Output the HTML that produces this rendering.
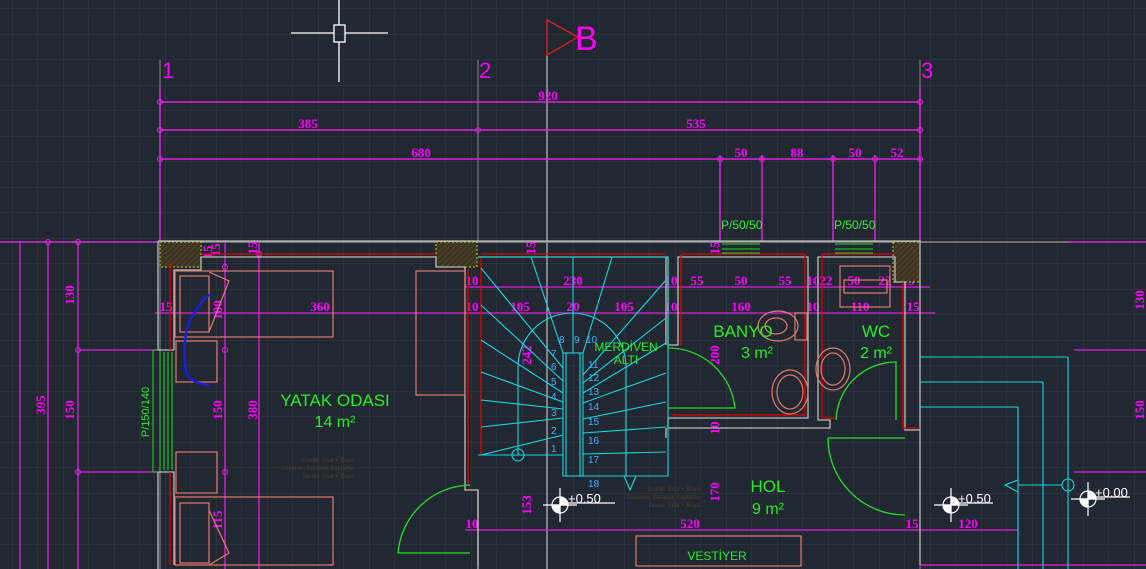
<!DOCTYPE html>
<html><head><meta charset="utf-8"><style>
html,body{margin:0;padding:0;background:#222832;width:1146px;height:569px;overflow:hidden}
svg{display:block}
text{font-family:"Liberation Serif",serif}
.s{font-family:"Liberation Sans",sans-serif}
</style></head><body>
<svg width="1146" height="569" viewBox="0 0 1146 569" xmlns="http://www.w3.org/2000/svg">
<defs>
<pattern id="g" width="51" height="51" patternUnits="userSpaceOnUse" x="12" y="-17">
<path d="M0 0H51M0 0V51" stroke="#333b47" stroke-width="1"/>
<path d="M0 25.5H51M25.5 0V51" stroke="#29303a" stroke-width="1"/>
</pattern>
<pattern id="h" width="4" height="4" patternUnits="userSpaceOnUse" patternTransform="rotate(45)">
<rect width="4" height="4" fill="#3a3424"/><path d="M0 0V4" stroke="#6b5a2a" stroke-width="1"/>
</pattern>
</defs>
<rect width="1146" height="569" fill="#222832"/>
<rect width="1146" height="569" fill="url(#g)"/>

<g stroke="#fff" stroke-width="1.3" fill="none">
<path d="M291 33H334M345 33H388M339 0V25M339 42V82"/><rect x="334" y="25" width="11" height="17"/>
</g>
<path d="M547 55V569" stroke="#bbb" stroke-width="1.2"/>
<path d="M547 20L578 37L547 55Z" fill="none" stroke="#e02020" stroke-width="1.3"/>
<text x="575" y="50" class="s" font-size="34" fill="#ff00ff">B</text>

<g stroke="#888" stroke-width="1"><path d="M160 60V569M478 60V242M920 60V569"/></g>
<g class="s" font-size="22" fill="#ff00ff"><text x="162" y="78" class="s">1</text><text x="479" y="78" class="s">2</text><text x="921" y="78" class="s">3</text></g>

<g stroke="#e020e0" stroke-width="1.5" fill="none">
<path d="M160 102H920M160 130H920M160 159H920"/>
<path d="M160 87V242M920 87V242M720 155V242M762 155V242M833 155V242M875 155V242"/>
</g>
<g fill="none" stroke="#e020e0" stroke-width="1">
<circle cx="160" cy="102" r="2.5"/><circle cx="920" cy="102" r="2.5"/><circle cx="160" cy="130" r="2.5"/><circle cx="478" cy="130" r="2.5"/><circle cx="920" cy="130" r="2.5"/>
<circle cx="160" cy="159" r="2.5"/><circle cx="720" cy="159" r="2.5"/><circle cx="762" cy="159" r="2.5"/><circle cx="833" cy="159" r="2.5"/><circle cx="875" cy="159" r="2.5"/><circle cx="920" cy="159" r="2.5"/>
</g>
<g font-size="13" font-weight="bold" fill="#ff00ff" text-anchor="middle">
<text x="548" y="100">920</text><text x="308" y="128">385</text><text x="696" y="128">535</text>
<text x="421" y="157">680</text><text x="741" y="157">50</text><text x="797" y="157">88</text><text x="855" y="157">50</text><text x="897" y="157">52</text>
</g>
<g class="s" font-size="12" fill="#33ee33"><text x="721" y="229" class="s">P/50/50</text><text x="834" y="229" class="s">P/50/50</text></g>

<path d="M0 242H1146" stroke="#999" stroke-width="1.2"/>
<path d="M0 242H160M1068 242H1146M1074 350H1146M1074 472H1146M920 565H1146" stroke="#e020e0" stroke-width="1.3"/>

<g stroke="#e020e0" stroke-width="1.3" fill="none">
<path d="M20 242V569M48 242V569M78 242V569M78 350H160M78 472H160M225 242V569M259 242V569"/>
</g>
<g fill="none" stroke="#e020e0"><circle cx="48" cy="242" r="2.5"/><circle cx="78" cy="242" r="2.5"/><circle cx="78" cy="350" r="2.5"/><circle cx="78" cy="472" r="2.5"/><circle cx="225" cy="350" r="2.5"/><circle cx="225" cy="472" r="2.5"/><circle cx="225" cy="267" r="2.5"/><circle cx="259" cy="254" r="2.5"/></g>
<g font-size="13" font-weight="bold" fill="#ff00ff" text-anchor="middle">
<text transform="translate(45,405) rotate(-90)">395</text>
<text transform="translate(74,295) rotate(-90)">130</text>
<text transform="translate(74,410) rotate(-90)">150</text>
<text transform="translate(222,310) rotate(-90)">100</text>
<text transform="translate(222,410) rotate(-90)">150</text>
<text transform="translate(222,520) rotate(-90)">115</text>
<text transform="translate(257,410) rotate(-90)">380</text>
<text transform="translate(212,252) rotate(-90)">15</text>
<text transform="translate(220,250) rotate(-90)">15</text>
<text transform="translate(257,248) rotate(-90)">15</text>
<text transform="translate(535,248) rotate(-90)">15</text>
<text transform="translate(719,248) rotate(-90)">15</text>
<text transform="translate(531,355) rotate(-90)">242</text>
<text transform="translate(531,505) rotate(-90)">153</text>
<text transform="translate(719,355) rotate(-90)">200</text>
<text transform="translate(719,428) rotate(-90)">10</text>
<text transform="translate(719,492) rotate(-90)">170</text>
<text transform="translate(1144,300) rotate(-90)">130</text>
<text transform="translate(1144,410) rotate(-90)">150</text>
</g>

<g stroke="#e020e0" stroke-width="1.2"><path d="M155 313H935M465 287H930M465 530H1018"/></g>
<g font-size="13" font-weight="bold" fill="#ff00ff" text-anchor="middle">
<text x="320" y="311">360</text><text x="166" y="311">15</text>
<text x="472" y="285">10</text><text x="573" y="285">230</text><text x="671" y="285">10</text><text x="697" y="285">55</text><text x="741" y="285">50</text><text x="785" y="285">55</text><text x="813" y="285">10</text><text x="826" y="285">22</text><text x="854" y="285">50</text><text x="885" y="285">22</text><text x="908" y="285">15</text>
<text x="472" y="311">10</text><text x="520" y="311">105</text><text x="573" y="311">20</text><text x="624" y="311">105</text><text x="671" y="311">10</text><text x="741" y="311">160</text><text x="813" y="311">10</text><text x="860" y="311">110</text><text x="913" y="311">15</text>
<text x="472" y="528">10</text><text x="690" y="528">520</text><text x="912" y="528">15</text><text x="968" y="528">120</text>
</g>

<g fill="url(#h)" stroke="#cccc22" stroke-width="1" stroke-dasharray="2 2">
<rect x="160" y="242" width="41" height="25"/><rect x="436" y="242" width="41" height="25"/><rect x="893" y="242" width="27" height="40"/>
</g>
<g fill="none" stroke="#bdbdbd" stroke-width="1.3">
<path d="M158 241H920V565"/>
<path d="M158 241V350H174M158 472H174V565M158 472V569"/>
<path d="M174 350V270H201V257H436V267H465V490H478V565"/>
<path d="M478 257H668V345H678V257H808V418H668V428H830V420H818V257H895V282H905V430H920"/>
<path d="M666 257V345M666 428V438M478 490V569"/>
</g>
<g fill="none" stroke="#e00000" stroke-width="1.3">
<path d="M170 262V350M170 472V565M201 254H436M468 270V485M481 254H665M481 257V455"/>
<path d="M681 254H805M681 254V345M805 254V415H672M822 254H893M822 254V418H835M903 282V428H920"/>
</g>
<g stroke="#22dd22" stroke-width="1" fill="none"><path d="M153 350V472M160 352V470M164 352V470M168 352V470M172 352V470M153 350H158M153 472H158"/></g>
<text transform="translate(149,412) rotate(-90)" class="s" font-size="11" fill="#22ee22" text-anchor="middle">P/150/140</text>
<g stroke="#22dd22" stroke-width="1"><path d="M722 244H760M722 249H760M722 253H760M835 244H873M835 249H873M835 253H873"/></g>

<g fill="none" stroke="#e07a6a" stroke-width="1.2">
<rect x="175" y="271" width="158" height="66"/><rect x="180" y="276" width="29" height="56"/><path d="M209 272L229 281L209 332"/>
<rect x="176" y="341" width="41" height="41"/><rect x="176" y="452" width="41" height="41"/>
<rect x="175" y="497" width="158" height="68"/><rect x="180" y="503" width="29" height="60"/><path d="M209 510L229 553L209 565"/>
<rect x="416" y="271" width="49" height="124"/>
<rect x="636" y="536" width="165" height="30"/>
<ellipse cx="778" cy="326" rx="20" ry="15"/><ellipse cx="776" cy="326" rx="11" ry="8"/><rect x="795" y="313" width="12" height="27"/>
<ellipse cx="790" cy="392" rx="18" ry="22"/><ellipse cx="790" cy="392" rx="13" ry="17"/>
<ellipse cx="833" cy="369" rx="17" ry="21"/><ellipse cx="833" cy="369" rx="12" ry="16"/>
<rect x="840" y="266" width="50" height="41"/><rect x="844" y="280" width="43" height="13"/>
</g>
<path d="M211 294C200 300 196 312 190 320C183 335 184 360 186 372C190 382 200 384 209 385" fill="none" stroke="#1520e0" stroke-width="2.4"/>

<g fill="none" stroke="#10d8e0" stroke-width="1.1">
<path d="M478 455H563M583 476H668V257M478 257H668"/>
<rect x="563" y="353" width="20" height="123"/>
<path d="M518 455V367A54 54 0 0 1 626 367V476"/>
<path d="M563 368L481 268M563 381L481 305M563 393L481 340M563 402L481 372M563 409L481 400M563 418L481 427M563 435L481 455"/>
<path d="M563 353L531 257M573 353V257M583 353L612 257M583 375L666 280M583 383L666 318M583 393L666 343M583 403L666 373M583 419L666 402M583 433L666 427M583 454L666 452"/>
<path d="M566 476V353M580 353V476"/>
<path d="M624 476L630 490L636 476"/>
<circle cx="518" cy="455" r="6"/>
<path d="M1018 407V569M1043 382V569M1068 357V569M920 357H1068M920 382H1043M920 407H1018M1018 485H1062M1018 480L1005 485L1018 492"/>
<circle cx="1068" cy="485" r="6"/>
</g>
<g class="s" font-size="10" fill="#3ab0ff">
<text x="551" y="452" class="s">1</text><text x="551" y="434" class="s">2</text><text x="551" y="416" class="s">3</text><text x="551" y="400" class="s">4</text><text x="551" y="385" class="s">5</text><text x="551" y="370" class="s">6</text><text x="551" y="357" class="s">7</text>
<text x="559" y="343" class="s">8</text><text x="574" y="343" class="s">9</text><text x="586" y="343" class="s">10</text>
<text x="588" y="368" class="s">11</text><text x="588" y="381" class="s">12</text><text x="588" y="395" class="s">13</text><text x="588" y="410" class="s">14</text><text x="588" y="425" class="s">15</text><text x="588" y="444" class="s">16</text><text x="588" y="463" class="s">17</text><text x="588" y="487" class="s">18</text>
</g>

<g fill="none" stroke="#22dd22" stroke-width="1.3">
<path d="M398 553H470"/>
<path d="M398 553A74 74 0 0 1 470 485"/>
<path d="M668 348A67 67 0 0 1 735 408H668"/>
<path d="M836 420A60 60 0 0 1 896 362V420"/>
<path d="M828 438H905M828 438A77 77 0 0 0 905 515"/>
</g>

<g class="s" fill="#22ee22" text-anchor="middle">
<text x="335" y="406" font-size="17" class="s">YATAK ODASI</text>
<text x="335" y="427" font-size="16" class="s">14 m²</text>
<text x="743" y="337" font-size="17" class="s">BANYO</text>
<text x="757" y="358" font-size="16" class="s">3 m²</text>
<text x="876" y="337" font-size="17" class="s">WC</text>
<text x="876" y="358" font-size="16" class="s">2 m²</text>
<text x="626" y="351" font-size="12" class="s">MERDİVEN</text>
<text x="626" y="364" font-size="12" class="s">ALTI</text>
<text x="768" y="492" font-size="17" class="s">HOL</text>
<text x="768" y="514" font-size="16" class="s">9 m²</text>
<text x="717" y="560" font-size="12" class="s">VESTİYER</text>
</g>
<g class="s" font-size="6" fill="#4a4228" text-anchor="end">
<text x="354" y="462" class="s">Duvar: Sıva + Boya</text><text x="354" y="470" class="s">Döşeme: Seramik Kaplama</text><text x="354" y="478" class="s">Tavan: Sıva + Boya</text>
<text x="700" y="491" class="s">Duvar: Sıva + Boya</text><text x="700" y="499" class="s">Döşeme: Seramik Kaplama</text><text x="700" y="507" class="s">Tavan: Sıva + Boya</text>
</g>

<g stroke="#fff" stroke-width="1.2" fill="none">
<g transform="translate(560,505)"><circle r="8"/><path d="M-17 0H17M0 -17V17M4 -2H55"/><path d="M0 -8A8 8 0 0 1 8 0H0Z" fill="#fff"/><path d="M0 8A8 8 0 0 1 -8 0H0Z" fill="#fff"/></g>
<g transform="translate(951,505)"><circle r="8"/><path d="M-17 0H17M0 -17V17M4 -2H42"/><path d="M0 -8A8 8 0 0 1 8 0H0Z" fill="#fff"/><path d="M0 8A8 8 0 0 1 -8 0H0Z" fill="#fff"/></g>
<g transform="translate(1088,499)"><circle r="8"/><path d="M-17 0H17M0 -17V17M4 -2H42"/><path d="M0 -8A8 8 0 0 1 8 0H0Z" fill="#fff"/><path d="M0 8A8 8 0 0 1 -8 0H0Z" fill="#fff"/></g>
</g>
<g class="s" font-size="13" fill="#fff"><text x="568" y="503" class="s">+0.50</text><text x="958" y="503" class="s">+0.50</text><text x="1095" y="497" class="s">+0.00</text></g>
</svg>
</body></html>
